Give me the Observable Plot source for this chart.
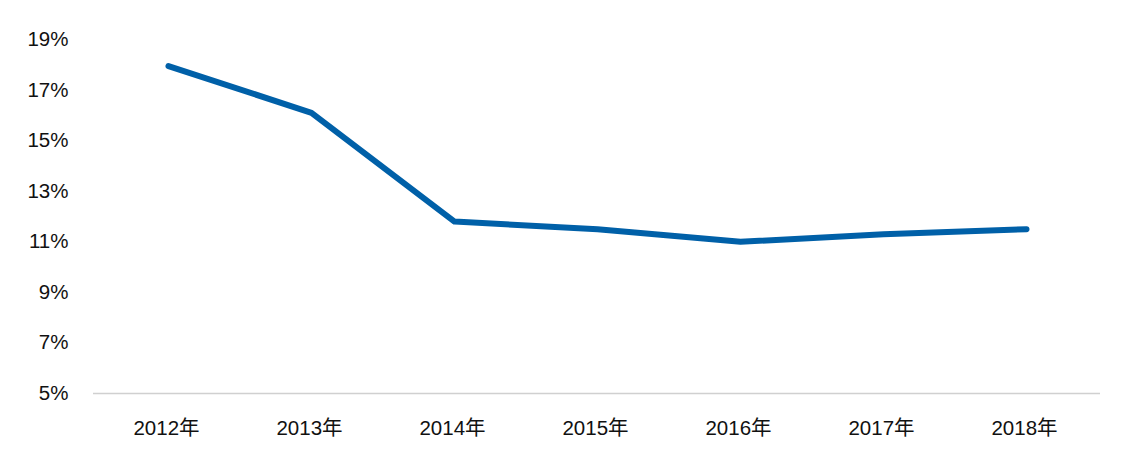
<!DOCTYPE html>
<html>
<head>
<meta charset="utf-8">
<script src="https://cdn.jsdelivr.net/npm/d3@7"></script>
<script src="https://cdn.jsdelivr.net/npm/@observablehq/plot@0.6"></script>
<style>
  html, body { margin: 0; padding: 0; background: #fff; }
  #chart svg { display: block; }
</style>
</head>
<body>
<div id="chart"></div>
<script>
const years = ["2012年", "2013年", "2014年", "2015年", "2016年", "2017年", "2018年"];
const rates = [17.95, 16.1, 11.8, 11.5, 11.0, 11.3, 11.5];
const yTicks = [5, 7, 9, 11, 13, 15, 17, 19];

const data = years.map((y, i) => ({year: y, rate: rates[i]}));

const chart = Plot.plot({
  width: 1124,
  height: 473,
  marginLeft: 93,
  marginRight: 24,
  marginTop: 39,
  marginBottom: 80,
  style: {fontFamily: "'Liberation Sans', Arial, 'Noto Sans CJK SC', sans-serif", fontSize: "20px", color: "#111", background: "#fff"},
  x: {type: "point", domain: years, padding: 0.5, label: null},
  y: {domain: [5, 19], label: null},
  marks: [
    Plot.axisY({ticks: yTicks, tickFormat: d => d + "%", tickSize: 0, tickPadding: 25, fontSize: 20.5, label: null}),
    Plot.axisX({tickSize: 0, tickPadding: 27, fontSize: 20.5, label: null, dx: -2}),
    Plot.ruleY([5], {stroke: "#d0d0d0", strokeWidth: 1.5}),
    Plot.line(data, {x: "year", y: "rate", stroke: "#0060A8", strokeWidth: 6, strokeLinecap: "round", strokeLinejoin: "round"})
  ]
});
document.getElementById("chart").appendChild(chart);
</script>
</body>
</html>
